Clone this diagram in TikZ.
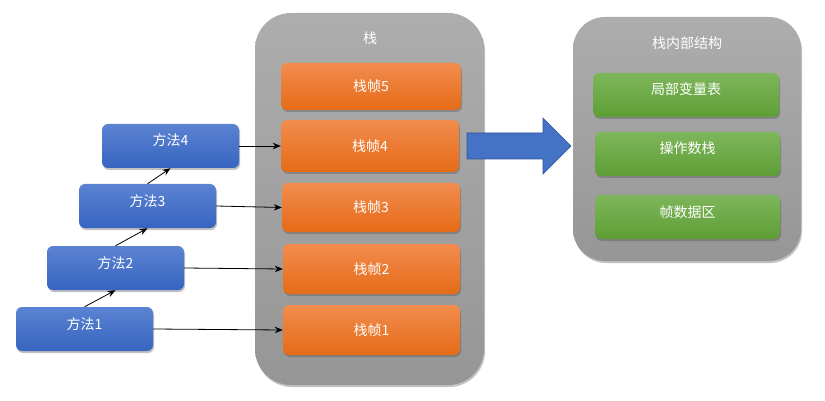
\documentclass[tikz,border=0pt]{standalone}
\usepackage{fontspec}
\setmainfont{Noto Sans CJK SC}
\usetikzlibrary{shadows,arrows.meta}
\definecolor{bluetop}{HTML}{5B83D2}
\definecolor{bluebot}{HTML}{3664BF}
\definecolor{ortop}{HTML}{F28C4E}
\definecolor{orbot}{HTML}{E56B17}
\definecolor{greentop}{HTML}{7EB65B}
\definecolor{greenbot}{HTML}{5E9E35}
\definecolor{graytop}{HTML}{ADADAD}
\definecolor{graybot}{HTML}{969696}
\definecolor{bigfill}{HTML}{4472C4}
\definecolor{bigdraw}{HTML}{2F5597}
\tikzset{
  shad/.style={drop shadow={shadow xshift=1pt,shadow yshift=-2pt,opacity=0.35,fill=black!70}},
  box/.style={shad, rounded corners=6pt, text=white, font=\fontsize{14}{16}\selectfont, inner sep=0pt},
  raised/.style={text height=12pt, text depth=12pt},
  meth/.style={box, raised, top color=bluetop, bottom color=bluebot, minimum width=137pt, minimum height=44pt},
  sframe/.style={box, top color=ortop, bottom color=orbot},
  gbox/.style={box, raised, top color=greentop, bottom color=greenbot},
  container/.style={shad, top color=graytop, bottom color=graybot, inner sep=0pt},
  title/.style={text=white, font=\fontsize{14}{16}\selectfont, inner sep=0pt},
  conn/.style={-{Stealth[length=8pt,width=6.5pt]}, line width=0.8pt, black}
}
\begin{document}
\begin{tikzpicture}[x=1pt,y=-1pt]
\useasboundingbox (0,0) rectangle (825,401);
% containers
\node[container, rounded corners=36pt, minimum width=229pt, minimum height=372pt] (stack) at (369.5,199) {};
\node[title] (stacktitle) at (370,38) {栈};
\node[container, rounded corners=32pt, minimum width=228pt, minimum height=244pt] (inner) at (687,139) {};
\node[title] (innertitle) at (687,43) {栈内部结构};
% stack frames
\node[sframe, minimum width=180pt, minimum height=47pt] (f5) at (371,86.5) {栈帧5};
\node[sframe, minimum width=178pt, minimum height=52pt] (f4) at (370,146) {栈帧4};
\node[sframe, minimum width=178pt, minimum height=49pt] (f3) at (371,207.5) {栈帧3};
\node[sframe, minimum width=177pt, minimum height=50pt] (f2) at (371.5,269) {栈帧2};
\node[sframe, minimum width=177pt, minimum height=50pt] (f1) at (371.5,330) {栈帧1};
% methods
\node[meth] (m4) at (170.5,146) {方法4};
\node[meth] (m3) at (147.5,206) {方法3};
\node[meth] (m2) at (115.5,268) {方法2};
\node[meth] (m1) at (84.5,329) {方法1};
% inner structure
\node[gbox, minimum width=186pt, minimum height=44pt] (g1) at (686,95) {局部变量表};
\node[gbox, minimum width=185pt, minimum height=44pt] (g2) at (687.5,154) {操作数栈};
\node[gbox, minimum width=185pt, minimum height=44pt] (g3) at (687.5,217) {帧数据区};
% connectors
\draw[conn] (m4.east) -- (f4.west);
\draw[conn] (m3.east) -- (f3.west);
\draw[conn] (m2.east) -- (f2.west);
\draw[conn] (m1.east) -- (f1.west);
\draw[conn] (m1.north) -- (m2.south);
\draw[conn] (m2.north) -- (m3.south);
\draw[conn] (m3.north) -- (m4.south);
% big arrow
\draw[fill=bigfill, draw=bigdraw, line width=0.6pt]
  (467,133) -- (543,133) -- (543,118) -- (571,146) -- (543,174) -- (543,159) -- (467,159) -- cycle;
\end{tikzpicture}
\end{document}
